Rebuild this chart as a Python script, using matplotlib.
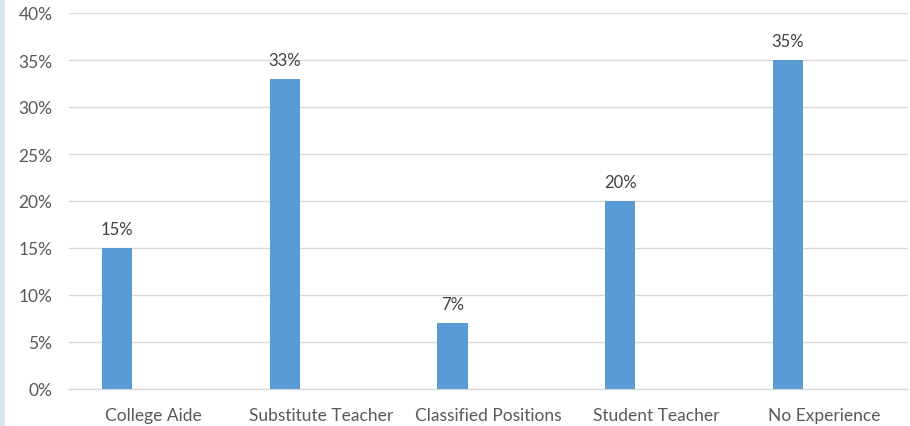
import matplotlib.pyplot as plt
from matplotlib.patches import Rectangle
from matplotlib.ticker import FuncFormatter
import numpy as np

categories = ['College Aide', 'Substitute Teacher', 'Classified Positions',
              'Student Teacher', 'No Experience']
values = [15, 33, 7, 20, 35]
yticks = [0, 5, 10, 15, 20, 25, 30, 35, 40]

plt.rcParams['font.family'] = ['Lato', 'DejaVu Sans']

fig = plt.figure(figsize=(9.1, 4.27), dpi=100)
ax = fig.add_axes([69 / 910, 37 / 427, 839 / 910, 376 / 427])

# light blue strip at the left edge
fig.patches.append(Rectangle((0, 0), 5 / 910, 1, transform=fig.transFigure,
                             facecolor='#d5e8f0', edgecolor='none'))

x = np.arange(len(categories))
bars = ax.bar(x - 0.215, values, width=0.18, color='#5b9bd5', zorder=3)

for b, v in zip(bars, values):
    ax.annotate(f'{v}%', (b.get_x() + b.get_width() / 2, v),
                xytext=(0, 8), textcoords='offset points',
                ha='center', va='bottom', fontsize=12, color='#404040')

ax.set_xlim(-0.5, len(categories) - 0.5)
ax.set_ylim(0, 40)
ax.set_yticks(yticks)
ax.yaxis.set_major_formatter(FuncFormatter(lambda v, p: f'{v:.0f}%'))
ax.set_xticks(x)
ax.set_xticklabels(categories)

ax.grid(axis='y', color='#d9d9d9', linewidth=1, zorder=0)
for s in ['top', 'right', 'left']:
    ax.spines[s].set_visible(False)
ax.spines['bottom'].set_color('#d9d9d9')
ax.spines['bottom'].set_linewidth(1)
ax.tick_params(axis='both', length=0, labelsize=12.5, labelcolor='#595959')
ax.tick_params(axis='y', pad=12)
ax.tick_params(axis='x', pad=13)

plt.savefig('out.png', dpi=100)
